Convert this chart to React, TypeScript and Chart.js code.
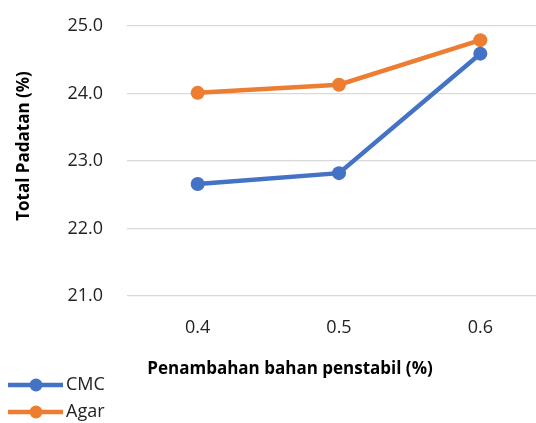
import React, { useEffect, useRef } from "react";
import { Chart, registerables } from "chart.js";

Chart.register(...registerables);

const categories = ["0.4", "0.5", "0.6"];
const cmcValues = [22.66, 22.82, 24.59];
const agarValues = [24.01, 24.13, 24.79];
const yTicks = [21, 22, 23, 24, 25];
const xTitle = "Penambahan bahan penstabil (%)";
const yTitle = "Total Padatan (%)";

const BLUE = "#4472C4";
const ORANGE = "#ED7D31";
const FONT = "'Open Sans', 'Noto Sans', sans-serif";

const customText = {
  id: "customText",
  afterDraw(chart: any) {
    const ctx = chart.ctx;
    ctx.save();
    ctx.fillStyle = "#000";
    ctx.font = `bold 17px ${FONT}`;
    ctx.textAlign = "center";
    ctx.textBaseline = "middle";
    ctx.fillText(xTitle, 290, 369);
    ctx.save();
    ctx.translate(24, 146);
    ctx.rotate(-Math.PI / 2);
    ctx.fillText(yTitle, 0, 0);
    ctx.restore();
    // legend
    const ys = [385, 412];
    chart.data.datasets.forEach((ds: any, i: number) => {
      const y = ys[i];
      ctx.strokeStyle = ds.borderColor;
      ctx.lineWidth = 4.5;
      ctx.beginPath();
      ctx.moveTo(8, y);
      ctx.lineTo(63, y);
      ctx.stroke();
      ctx.fillStyle = ds.borderColor;
      ctx.beginPath();
      ctx.arc(36, y, 6.5, 0, Math.PI * 2);
      ctx.fill();
      ctx.fillStyle = "#222";
      ctx.font = `18px ${FONT}`;
      ctx.textAlign = "left";
      ctx.textBaseline = "middle";
      ctx.fillText(ds.label, 66, y);
    });
    ctx.restore();
  },
};

export default function App() {
  const ref = useRef<HTMLCanvasElement>(null);
  useEffect(() => {
    if (!ref.current) return;
    const chart = new Chart(ref.current, {
      type: "line",
      data: {
        labels: categories,
        datasets: [
          {
            label: "CMC",
            data: cmcValues,
            borderColor: BLUE,
            backgroundColor: BLUE,
            borderWidth: 4.5,
            pointRadius: 7,
            pointBackgroundColor: BLUE,
            pointBorderColor: BLUE,
            pointBorderWidth: 0,
          },
          {
            label: "Agar",
            data: agarValues,
            borderColor: ORANGE,
            backgroundColor: ORANGE,
            borderWidth: 4.5,
            pointRadius: 7,
            pointBackgroundColor: ORANGE,
            pointBorderColor: ORANGE,
            pointBorderWidth: 0,
          },
        ],
      },
      options: {
        responsive: false,
        animation: false,
        layout: { autoPadding: false, padding: { top: 26, left: 0, right: 0, bottom: 0 } },
        plugins: {
          legend: { display: false },
          tooltip: { enabled: false },
        },
        scales: {
          x: {
            offset: true,
            grid: { display: false, drawTicks: false },
            border: { display: false },
            ticks: {
              padding: 21,
              color: "#222",
              font: { family: FONT, size: 18 },
            },
            afterFit(scale: any) {
              scale.height = 127;
              scale.paddingLeft = 0;
              scale.paddingRight = 0;
            },
          },
          y: {
            min: 21,
            max: 25,
            afterBuildTicks(scale: any) {
              scale.ticks = yTicks.map((v) => ({ value: v }));
            },
            grid: { color: "#d9d9d9", lineWidth: 1.3, drawTicks: false },
            border: { display: false },
            ticks: {
              padding: 24,
              color: "#222",
              font: { family: FONT, size: 18 },
              callback: (v: any) => Number(v).toFixed(1),
            },
            afterFit(scale: any) {
              scale.width = 127;
              scale.paddingTop = 0;
              scale.paddingBottom = 0;
            },
          },
        },
      },
      plugins: [customText],
    });
    return () => chart.destroy();
  }, []);
  return (
    <div
      style={{
        position: "fixed",
        left: 0,
        top: 0,
        width: 536,
        height: 423,
        overflow: "hidden",
        background: "#fff",
      }}
    >
      <canvas ref={ref} width={551} height={423} style={{ width: 551, height: 423, display: "block" }} />
    </div>
  );
}
